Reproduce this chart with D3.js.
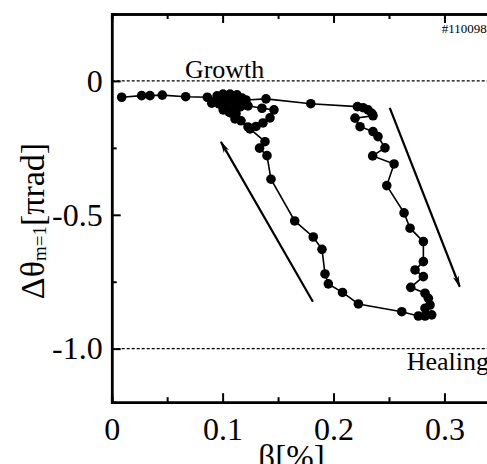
<!DOCTYPE html>
<html>
<head>
<meta charset="utf-8">
<script src="https://cdn.jsdelivr.net/npm/d3@7"></script>
<style>
  body { margin: 0; background: #fff; }
  svg { display: block; }
</style>
</head>
<body>
<div id="chart"></div>
<script>
// beta [%] and delta theta (m=1) [pi rad], in order of the trajectory
const beta = [
  0.009, 0.027, 0.0345, 0.0456, 0.0667, 0.0862, 0.0902,
  0.0950, 0.1004, 0.1067, 0.1130, 0.1175, 0.1211,
  0.1391, 0.1795, 0.2215, 0.2266, 0.2311, 0.2345, 0.2356, 0.2194, 0.2239,
  0.2356, 0.2401, 0.2464, 0.2353, 0.2546, 0.2480, 0.2636, 0.2690, 0.2810, 0.2810,
  0.2735, 0.2810, 0.2696, 0.2825, 0.2855, 0.2870, 0.2825, 0.2885, 0.2825, 0.2765,
  0.2615, 0.2224, 0.2081, 0.1953, 0.1923, 0.1896, 0.1817, 0.1650, 0.1436, 0.1400,
  0.1333, 0.1382, 0.1247,
  0.1166, 0.1112, 0.1076, 0.1031, 0.1005, 0.0932, 0.0968, 0.0986, 0.1031, 0.1085,
  0.1139, 0.1193, 0.1157, 0.1094, 0.1058, 0.1121, 0.1184, 0.1229,
  0.1355, 0.1463, 0.1427, 0.1364, 0.1301, 0.1229
];
const dtheta = [
  -0.061, -0.055, -0.055, -0.053, -0.059, -0.061, -0.083,
  -0.056, -0.049, -0.049, -0.052, -0.064, -0.071,
  -0.067, -0.085, -0.096, -0.100, -0.108, -0.121, -0.130, -0.139, -0.171,
  -0.189, -0.208, -0.250, -0.280, -0.310, -0.391, -0.493, -0.550, -0.600, -0.675,
  -0.706, -0.731, -0.771, -0.793, -0.812, -0.837, -0.849, -0.874, -0.878, -0.878,
  -0.862, -0.833, -0.790, -0.758, -0.721, -0.629, -0.583, -0.523, -0.367, -0.279,
  -0.251, -0.227, -0.179,
  -0.149, -0.142, -0.120, -0.101, -0.108, -0.075, -0.086, -0.067, -0.071, -0.075,
  -0.078, -0.082, -0.097, -0.105, -0.116, -0.123, -0.090, -0.093,
  -0.102, -0.108, -0.138, -0.157, -0.170, -0.172
];

const xTicks = [0, 0.1, 0.2, 0.3];
const xTickLabels = ["0", "0.1", "0.2", "0.3"];
const xMinorTicks = [0.05, 0.15, 0.25, 0.35];
const yTicks = [0, -0.5, -1.0];
const yTickLabels = ["0", "-0.5", "-1.0"];
const yMinorTicks = [0.25, -0.25, -0.75];

// reference levels and their labels
const refLevels = [0, -1.0];
const refLabels = ["Growth", "Healing"];
const refLabelBeta = [0.066, 0.266];

// arrows: start and end as [beta, theta]
const arrowStart = [[0.1814, -0.8246], [0.2507, -0.1007]];
const arrowEnd = [[0.0985, -0.2276], [0.3138, -0.7687]];

const shotLabel = "#110098";

const width = 487, height = 464;
const serif = "'Liberation Serif', 'Times New Roman', serif";

const x = d3.scaleLinear().domain([0, 0.35]).range([111.7, 499.9]);
const y = d3.scaleLinear().domain([-1.2, 0.25]).range([402.2, 14]);

const svg = d3.select('#chart')
  .append('svg')
  .attr('width', width)
  .attr('height', height);

// dashed reference lines
svg.selectAll('line.ref')
  .data(refLevels)
  .enter()
  .append('line')
    .attr('class', 'ref')
    .attr('x1', x(0))
    .attr('x2', x(0.35))
    .attr('y1', d => y(d))
    .attr('y2', d => y(d))
    .attr('stroke', '#000')
    .attr('stroke-width', 1.2)
    .attr('stroke-dasharray', '3,2');

svg.selectAll('text.ref')
  .data(refLevels)
  .enter()
  .append('text')
    .attr('class', 'ref')
    .attr('x', (d, i) => x(refLabelBeta[i]))
    .attr('y', (d, i) => i === 0 ? y(d) - 3 : y(d) + 21)
    .attr('font-family', serif)
    .attr('font-size', 26)
    .text((d, i) => refLabels[i]);

svg.append('text')
  .attr('x', 441.7)
  .attr('y', 33)
  .attr('font-family', serif)
  .attr('font-size', 13)
  .text(shotLabel);

// trajectory
const pts = beta.map((b, i) => [b, dtheta[i]]);
const line = d3.line().x(d => x(d[0])).y(d => y(d[1]));

svg.append('path')
  .datum(pts)
  .attr('d', line)
  .attr('fill', 'none')
  .attr('stroke', '#000')
  .attr('stroke-width', 1.6);

svg.selectAll('circle')
  .data(pts)
  .enter()
  .append('circle')
    .attr('cx', d => x(d[0]))
    .attr('cy', d => y(d[1]))
    .attr('r', 4.8)
    .attr('fill', '#000');

// arrows
svg.append('defs')
  .append('marker')
    .attr('id', 'head')
    .attr('viewBox', '0 0 12 8')
    .attr('refX', 11)
    .attr('refY', 4)
    .attr('markerWidth', 12)
    .attr('markerHeight', 8)
    .attr('markerUnits', 'userSpaceOnUse')
    .attr('orient', 'auto')
  .append('path')
    .attr('d', 'M0,1 L12,4 L0,7 L3,4 Z')
    .attr('fill', '#000');

svg.selectAll('line.arrow')
  .data(arrowStart)
  .enter()
  .append('line')
    .attr('class', 'arrow')
    .attr('x1', d => x(d[0]))
    .attr('y1', d => y(d[1]))
    .attr('x2', (d, i) => x(arrowEnd[i][0]))
    .attr('y2', (d, i) => y(arrowEnd[i][1]))
    .attr('stroke', '#000')
    .attr('stroke-width', 2.2)
    .attr('marker-end', 'url(#head)');

// axes
function styleAxis(g) {
  g.select('.domain').attr('stroke-width', 2.5);
  g.selectAll('.tick line').attr('stroke-width', 2);
  g.selectAll('text')
    .attr('font-family', serif)
    .attr('font-size', 32)
    .attr('fill', '#000');
}

svg.append('g')
  .attr('transform', `translate(0, ${y(-1.2)})`)
  .call(d3.axisBottom(x).tickValues(xTicks).tickSize(-9).tickSizeOuter(0)
    .tickPadding(15).tickFormat((d, i) => xTickLabels[i]))
  .call(styleAxis);
svg.append('g')
  .attr('transform', `translate(0, ${y(-1.2)})`)
  .call(d3.axisBottom(x).tickValues(xMinorTicks).tickSize(-5).tickFormat(''))
  .call(styleAxis);

svg.append('g')
  .attr('transform', `translate(0, ${y(0.25)})`)
  .call(d3.axisTop(x).tickValues(xTicks).tickSize(-9).tickSizeOuter(0).tickFormat(''))
  .call(styleAxis);
svg.append('g')
  .attr('transform', `translate(0, ${y(0.25)})`)
  .call(d3.axisTop(x).tickValues(xMinorTicks).tickSize(-5).tickFormat(''))
  .call(styleAxis);

svg.append('g')
  .attr('transform', `translate(${x(0)}, 0)`)
  .call(d3.axisLeft(y).tickValues(yTicks).tickSize(-9).tickSizeOuter(0)
    .tickPadding(9).tickFormat((d, i) => yTickLabels[i]))
  .call(styleAxis);
svg.append('g')
  .attr('transform', `translate(${x(0)}, 0)`)
  .call(d3.axisLeft(y).tickValues(yMinorTicks).tickSize(-5).tickFormat(''))
  .call(styleAxis);

svg.append('g')
  .attr('transform', `translate(${x(0.35)}, 0)`)
  .call(d3.axisRight(y).tickValues(yTicks).tickSize(-9).tickSizeOuter(0).tickFormat(''))
  .call(styleAxis);

// axis titles
const yTitle = svg.append('text')
  .attr('transform', 'translate(44, 221) rotate(-90)')
  .attr('text-anchor', 'middle')
  .attr('font-family', serif)
  .attr('font-size', 34);
yTitle.append('tspan').text('Δθ');
yTitle.append('tspan').attr('font-size', 19).attr('dy', 2).text('m=1');
yTitle.append('tspan').attr('dy', -2).text('[πrad]');

svg.append('text')
  .attr('x', 291.5)
  .attr('y', 468)
  .attr('text-anchor', 'middle')
  .attr('font-family', serif)
  .attr('font-size', 33)
  .text('β[%]');
</script>
</body>
</html>
